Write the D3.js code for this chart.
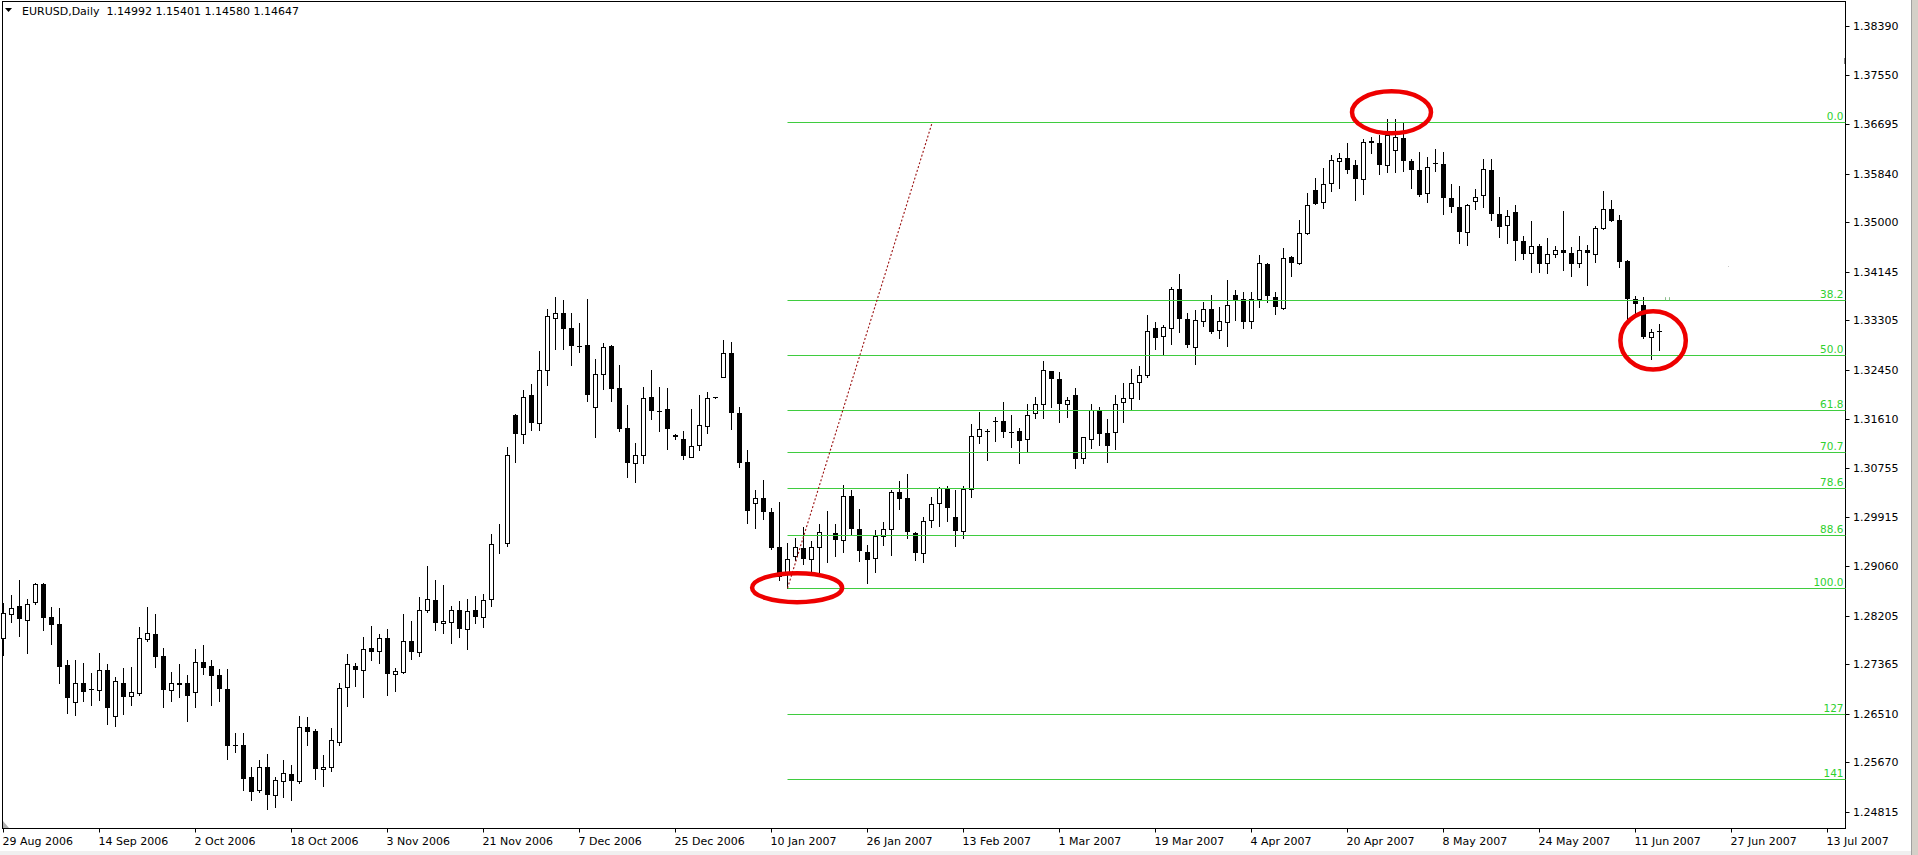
<!DOCTYPE html>
<html><head><meta charset="utf-8">
<script src="https://cdn.jsdelivr.net/npm/d3@7"></script>
<style>
html,body{margin:0;padding:0;background:#fff;overflow:hidden}
svg{display:block}
text{font-family:"DejaVu Sans",Verdana,sans-serif}
</style></head><body>
<svg id="chart" width="1918" height="855"></svg>
<script>
// ---------------- data ----------------
const symbolTitle = "EURUSD,Daily";
const titleQuote = ["1.14992", "1.15401", "1.14580", "1.14647"];
const xTickLabels = ["29 Aug 2006","14 Sep 2006","2 Oct 2006","18 Oct 2006","3 Nov 2006","21 Nov 2006","7 Dec 2006","25 Dec 2006","10 Jan 2007","26 Jan 2007","13 Feb 2007","1 Mar 2007","19 Mar 2007","4 Apr 2007","20 Apr 2007","8 May 2007","24 May 2007","11 Jun 2007","27 Jun 2007","13 Jul 2007"];
const barsPerXTick = 12;
const yTickLabels = ["1.38390","1.37550","1.36695","1.35840","1.35000","1.34145","1.33305","1.32450","1.31610","1.30755","1.29915","1.29060","1.28205","1.27365","1.26510","1.25670","1.24815"];

const open = [1.2782,1.2824,1.2837,1.2813,1.2844,1.2875,1.2819,1.2807,1.2736,1.2671,1.2704,1.2694,1.2692,1.2727,1.2647,1.2705,1.2682,1.2687,1.2780,1.2789,1.2751,1.2692,1.2702,1.2705,1.2688,1.2741,1.2734,1.2718,1.2694,1.2597,1.2598,1.2542,1.2520,1.2559,1.2511,1.2535,1.2547,1.2535,1.2629,1.2622,1.2556,1.2559,1.2602,1.2697,1.2734,1.2727,1.2765,1.2760,1.2782,1.2720,1.2724,1.2777,1.2758,1.2831,1.2848,1.2808,1.2810,1.2831,1.2797,1.2831,1.2819,1.2849,1.2944,1.2946,1.3167,1.3134,1.3202,1.3153,1.3245,1.3335,1.3343,1.3318,1.3286,1.3288,1.3181,1.3238,1.3286,1.3214,1.3145,1.3084,1.3098,1.3199,1.3174,1.3177,1.3131,1.3126,1.3095,1.3116,1.3148,1.3198,1.3233,1.3274,1.3170,1.3086,1.3016,1.3024,1.2999,1.2939,1.2896,1.2924,1.2938,1.2919,1.2939,1.2963,1.2963,1.2951,1.3027,1.2970,1.2931,1.2920,1.2958,1.2970,1.3034,1.3024,1.2963,1.2929,1.2985,1.3016,1.3041,1.2991,1.2967,1.3039,1.3131,1.3140,1.3157,1.3157,1.3138,1.3140,1.3126,1.3170,1.3187,1.3243,1.3230,1.3186,1.3202,1.3093,1.3126,1.3176,1.3136,1.3138,1.3189,1.3196,1.3225,1.3237,1.3318,1.3304,1.3318,1.3384,1.3333,1.3284,1.3330,1.3350,1.3314,1.3328,1.3374,1.3367,1.3330,1.3367,1.3428,1.3371,1.3352,1.3440,1.3430,1.3481,1.3556,1.3535,1.3568,1.3606,1.3611,1.3599,1.3574,1.3640,1.3637,1.3599,1.3624,1.3646,1.3606,1.3590,1.3551,1.3603,1.3601,1.3542,1.3527,1.3483,1.3537,1.3547,1.3590,1.3515,1.3495,1.3518,1.3467,1.3447,1.3459,1.3430,1.3445,1.3452,1.3447,1.3430,1.3452,1.3445,1.3490,1.3523,1.3504,1.3433,1.3367,1.3357,1.3302,1.3313];
const high = [1.2843,1.2856,1.2882,1.2849,1.2877,1.2877,1.2836,1.2834,1.2744,1.2744,1.2739,1.2722,1.2756,1.2737,1.2715,1.2730,1.2732,1.2801,1.2836,1.2824,1.2765,1.2724,1.2737,1.2718,1.2763,1.2770,1.2744,1.2729,1.2729,1.2618,1.2618,1.2559,1.2571,1.2581,1.2542,1.2571,1.2563,1.2647,1.2646,1.2625,1.2580,1.2627,1.2705,1.2754,1.2739,1.2783,1.2802,1.2789,1.2797,1.2730,1.2824,1.2812,1.2853,1.2907,1.2882,1.2873,1.2837,1.2846,1.2849,1.2854,1.2858,1.2961,1.2979,1.3112,1.3169,1.3211,1.3221,1.3277,1.3350,1.3371,1.3366,1.3343,1.3326,1.3367,1.3264,1.3291,1.3288,1.3253,1.3184,1.3119,1.3216,1.3245,1.3216,1.3214,1.3134,1.3140,1.3177,1.3202,1.3207,1.3199,1.3296,1.3293,1.3181,1.3107,1.3038,1.3055,1.3007,1.3017,1.2946,1.2955,1.2973,1.2950,1.2979,1.3001,1.2979,1.3046,1.3038,1.3004,1.2943,1.2968,1.2982,1.3038,1.3053,1.3065,1.2965,1.2991,1.3026,1.3043,1.3045,1.3038,1.3045,1.3152,1.3172,1.3143,1.3164,1.3189,1.3167,1.3145,1.3187,1.3199,1.3260,1.3244,1.3242,1.3199,1.3214,1.3130,1.3186,1.3181,1.3160,1.3202,1.3223,1.3247,1.3252,1.3340,1.3328,1.3323,1.3388,1.3411,1.3343,1.3348,1.3362,1.3374,1.3354,1.3401,1.3383,1.3379,1.3379,1.3444,1.3429,1.3379,1.3456,1.3442,1.3504,1.3551,1.3576,1.3593,1.3616,1.3620,1.3637,1.3608,1.3644,1.3647,1.3651,1.3678,1.3678,1.3671,1.3610,1.3622,1.3613,1.3627,1.3622,1.3566,1.3563,1.3531,1.3557,1.3610,1.3610,1.3544,1.3521,1.3530,1.3476,1.3503,1.3462,1.3473,1.3459,1.3520,1.3457,1.3476,1.3461,1.3493,1.3554,1.3539,1.3513,1.3435,1.3372,1.3371,1.3316,1.3325];
const low = [1.2753,1.2810,1.2785,1.2756,1.2841,1.2795,1.2771,1.2705,1.2652,1.2649,1.2673,1.2666,1.2675,1.2634,1.2630,1.2651,1.2666,1.2683,1.2777,1.2732,1.2663,1.2673,1.2680,1.2639,1.2663,1.2720,1.2666,1.2673,1.2573,1.2585,1.2520,1.2503,1.2516,1.2486,1.2490,1.2507,1.2503,1.2532,1.2598,1.2539,1.2527,1.2552,1.2598,1.2664,1.2699,1.2680,1.2744,1.2739,1.2683,1.2690,1.2722,1.2746,1.2751,1.2827,1.2795,1.2790,1.2773,1.2783,1.2763,1.2808,1.2801,1.2837,1.2929,1.2941,1.3086,1.3119,1.3141,1.3141,1.3219,1.3281,1.3282,1.3253,1.3276,1.3191,1.3129,1.3212,1.3191,1.3140,1.3060,1.3051,1.3084,1.3160,1.3140,1.3109,1.3126,1.3091,1.3094,1.3106,1.3136,1.3197,1.3232,1.3143,1.3077,1.2980,1.2972,1.2987,1.2936,1.2882,1.2868,1.2917,1.2910,1.2897,1.2896,1.2914,1.2924,1.2931,1.2962,1.2915,1.2877,1.2896,1.2943,1.2926,1.3004,1.2955,1.2917,1.2914,1.2973,1.2975,1.2984,1.2941,1.2955,1.3026,1.3119,1.3089,1.3123,1.3129,1.3112,1.3084,1.3104,1.3162,1.3162,1.3181,1.3155,1.3164,1.3075,1.3084,1.3111,1.3116,1.3086,1.3109,1.3155,1.3176,1.3194,1.3233,1.3281,1.3271,1.3289,1.3311,1.3284,1.3255,1.3321,1.3309,1.3301,1.3286,1.3331,1.3318,1.3318,1.3354,1.3362,1.3342,1.3350,1.3408,1.3428,1.3479,1.3531,1.3525,1.3554,1.3559,1.3585,1.3539,1.3549,1.3620,1.3583,1.3586,1.3586,1.3588,1.3559,1.3545,1.3535,1.3588,1.3515,1.3518,1.3464,1.3461,1.3523,1.3527,1.3504,1.3474,1.3464,1.3434,1.3436,1.3414,1.3414,1.3412,1.3440,1.3417,1.3408,1.3423,1.3391,1.3432,1.3488,1.3502,1.3423,1.3331,1.3343,1.3301,1.3264,1.3279];
const close = [1.2825,1.2834,1.2815,1.2841,1.2875,1.2817,1.2804,1.2732,1.2678,1.2704,1.2688,1.2692,1.2727,1.2661,1.2708,1.2680,1.2688,1.2782,1.2790,1.2749,1.2692,1.2704,1.2705,1.2682,1.2741,1.2730,1.2717,1.2694,1.2595,1.2596,1.2539,1.2516,1.2559,1.2511,1.2537,1.2549,1.2535,1.2629,1.2620,1.2556,1.2559,1.2605,1.2695,1.2737,1.2727,1.2763,1.2758,1.2782,1.2720,1.2725,1.2777,1.2758,1.2831,1.2849,1.2808,1.2812,1.2831,1.2797,1.2829,1.2819,1.2848,1.2944,1.2945,1.3098,1.3134,1.3199,1.3153,1.3245,1.3338,1.3343,1.3316,1.3286,1.3285,1.3202,1.3238,1.3284,1.3212,1.3143,1.3084,1.3098,1.3196,1.3174,1.3173,1.3143,1.3132,1.3096,1.3114,1.3150,1.3196,1.3198,1.3274,1.3170,1.3084,1.3001,1.3024,1.2999,1.2938,1.2887,1.2919,1.2939,1.2919,1.2939,1.2965,1.2964,1.2951,1.3027,1.2970,1.2933,1.2917,1.2958,1.2970,1.3034,1.3022,1.2965,1.2929,1.2984,1.3014,1.3041,1.3007,1.2967,1.3039,1.3131,1.3143,1.3139,1.3155,1.3138,1.3137,1.3123,1.3167,1.3186,1.3245,1.3230,1.3186,1.3193,1.3091,1.3129,1.3176,1.3134,1.3114,1.3187,1.3196,1.3223,1.3237,1.3313,1.3301,1.3319,1.3384,1.3333,1.3288,1.3331,1.3350,1.3311,1.3330,1.3357,1.3366,1.3328,1.3367,1.3430,1.3372,1.3354,1.3438,1.3430,1.3481,1.3530,1.3532,1.3566,1.3608,1.3611,1.3590,1.3574,1.3639,1.3637,1.3599,1.3651,1.3647,1.3605,1.3590,1.3547,1.3595,1.3602,1.3542,1.3527,1.3483,1.3530,1.3544,1.3592,1.3515,1.3492,1.3510,1.3467,1.3445,1.3459,1.3428,1.3445,1.3452,1.3447,1.3428,1.3452,1.3447,1.3490,1.3523,1.3503,1.3432,1.3367,1.3359,1.3302,1.3311,1.3313];

const fibLevels = [0, 38.2, 50, 61.8, 70.7, 78.6, 88.6, 100, 127, 141];
const fibLevelLabels = ["0.0","38.2","50.0","61.8","70.7","78.6","88.6","100.0","127","141"];
const fibAnchorBars = [98, 116.1];          // bar index of the two anchors
const fibAnchorPrices = [1.2868, 1.3673];   // low anchor, high anchor

const markBars = [99.2, 173.5, 206.2];      // red hand-drawn circles (bar index)
const markPrices = [1.2869, 1.3690, 1.3296];

// ---------------- styles ----------------
const W = 1918, H = 855;
const frame = {left: 2.5, top: 1.5, right: 1845.5, bottom: 828.5};
const markRadii = [[45, 14.5], [39.5, 21], [32.7, 29.2]];
const fibColor = "#3fcc3f";
const fibTextColor = "#2fd02f";

const svg = d3.select("#chart");
svg.append("rect").attr("width", W).attr("height", H).attr("fill", "#fff");

const x = d3.scaleLinear().domain([0, (xTickLabels.length - 1) * barsPerXTick]).range([3.5, 3.5 + 8 * (xTickLabels.length - 1) * barsPerXTick]);
const yVals = yTickLabels.map(Number);
const y = d3.scaleLinear().domain([yVals[yVals.length - 1], yVals[0]]).range([812, 26]);
const py = v => Math.round(y(v));

// window chrome strips
svg.append("rect").attr("x", 1911).attr("y", 0).attr("width", 7).attr("height", H).attr("fill", "#d4d0c8");
svg.append("line").attr("x1", 1911.5).attr("x2", 1911.5).attr("y1", 0).attr("y2", H).attr("stroke", "#a0a0a0");
svg.append("rect").attr("x", 0).attr("y", 851).attr("width", 1911).attr("height", 4).attr("fill", "#f0f0f0");

// frame
svg.append("rect").attr("x", frame.left).attr("y", frame.top)
  .attr("width", frame.right - frame.left).attr("height", frame.bottom - frame.top)
  .attr("fill", "none").attr("stroke", "#000").attr("stroke-width", 1);

// candles
const bars = open.map((o, i) => ({i, o, h: high[i], l: low[i], c: close[i]}));
const gC = svg.append("g");
bars.forEach(b => {
  const cx = x(b.i);
  gC.append("line").attr("x1", cx).attr("x2", cx).attr("y1", py(b.h)).attr("y2", py(b.l) + 1)
    .attr("stroke", "#000").attr("stroke-width", 1);
  const yo = py(b.o), yc = py(b.c);
  if (b.c > b.o) {
    gC.append("rect").attr("x", cx - 2).attr("y", yc + 0.5).attr("width", 4).attr("height", Math.max(yo - yc, 0))
      .attr("fill", "#fff").attr("stroke", "#000").attr("stroke-width", 1);
  } else {
    gC.append("rect").attr("x", cx - 2.5).attr("y", yo).attr("width", 5).attr("height", Math.max(yc - yo, 1))
      .attr("fill", "#000");
  }
});

// fibonacci retracement
const fibHi = fibAnchorPrices[1], fibLo = fibAnchorPrices[0];
const fibPrice = lv => fibHi - (fibHi - fibLo) * lv / 100;
const gF = svg.append("g");
fibLevels.forEach((lv, k) => {
  const yy = py(fibPrice(lv)) + 0.5;
  gF.append("line").attr("x1", x(fibAnchorBars[0])).attr("x2", frame.right).attr("y1", yy).attr("y2", yy)
    .attr("stroke", fibColor).attr("stroke-width", 1);
  gF.append("text").attr("x", frame.right - 2).attr("y", yy - 2.5).attr("text-anchor", "end")
    .attr("font-size", "10.5px").attr("fill", fibTextColor).text(fibLevelLabels[k]);
});
gF.append("line")
  .attr("x1", x(fibAnchorBars[0])).attr("y1", y(fibAnchorPrices[0]))
  .attr("x2", x(fibAnchorBars[1])).attr("y2", y(fibAnchorPrices[1]))
  .attr("stroke", "#9a0f0f").attr("stroke-width", 1.1).attr("stroke-dasharray", "2,2");

// tiny leftover object marks seen on the chart
svg.append("line").attr("x1", 1665.5).attr("x2", 1665.5).attr("y1", y(fibPrice(38.2)) - 3).attr("y2", y(fibPrice(38.2)))
  .attr("stroke", "#8fbf8f");
svg.append("line").attr("x1", 1669.5).attr("x2", 1669.5).attr("y1", y(fibPrice(38.2)) - 3).attr("y2", y(fibPrice(38.2)))
  .attr("stroke", "#8fbf8f");
svg.append("rect").attr("x", 1728).attr("y", 266).attr("width", 1).attr("height", 1).attr("fill", "#c8c8c8");
svg.append("line").attr("x1", frame.right - 1).attr("x2", frame.right - 1).attr("y1", 58).attr("y2", 64)
  .attr("stroke", "#808080");

// red circles
markBars.forEach((b, k) => {
  svg.append("ellipse").attr("cx", x(b)).attr("cy", y(markPrices[k]))
    .attr("rx", markRadii[k][0]).attr("ry", markRadii[k][1])
    .attr("fill", "none").attr("stroke", "#ee0000").attr("stroke-width", 4.5);
});

// x axis
const xTickIdx = xTickLabels.map((d, k) => k * barsPerXTick);
const xAxis = d3.axisBottom(x).tickValues(xTickIdx).tickFormat((d, k) => xTickLabels[k])
  .tickSize(4).tickSizeOuter(0).offset(0);
const gx = svg.append("g").attr("transform", `translate(0,${frame.bottom})`).call(xAxis);
gx.select(".domain").remove();
gx.selectAll(".tick line").attr("stroke", "#000");
gx.selectAll(".tick text").attr("text-anchor", "start").attr("x", -1).attr("y", 16).attr("dy", null)
  .attr("font-size", "11px").attr("font-family", "DejaVu Sans").attr("fill", "#000");

// y axis
const yAxis = d3.axisRight(y).tickValues(yVals).tickFormat((d, k) => yTickLabels[k])
  .tickSize(4).tickSizeOuter(0).offset(0);
const gy = svg.append("g").attr("transform", `translate(${frame.right},0)`).call(yAxis);
gy.select(".domain").remove();
gy.selectAll(".tick").attr("transform", d => `translate(0,${py(d) + 0.5})`);
gy.selectAll(".tick line").attr("stroke", "#000");
gy.selectAll(".tick text").attr("x", 7.5).attr("dy", "0.35em")
  .attr("font-size", "11px").attr("font-family", "DejaVu Sans").attr("fill", "#000");

// small chart-shift marker
svg.append("path").attr("d", "M3,821 L3,828 L9,828 Z").attr("fill", "#b0b0b0");

// title
svg.append("path").attr("d", "M5,8 L12,8 L8.5,12 Z").attr("fill", "#000");
svg.append("text").attr("x", 22).attr("y", 15).attr("font-size", "11px").attr("fill", "#000")
  .attr("xml:space", "preserve").style("white-space", "pre")
  .text(symbolTitle + "  " + titleQuote.join(" "));
</script>
</body></html>
